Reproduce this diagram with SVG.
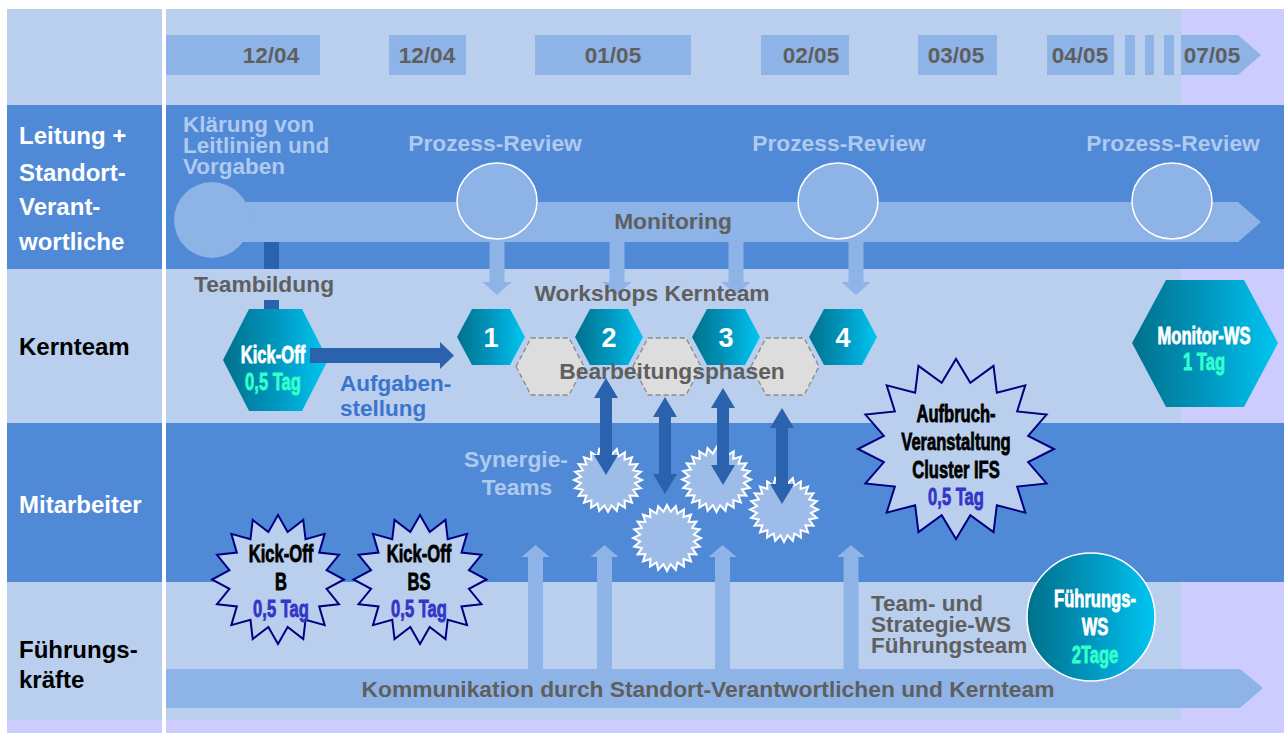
<svg xmlns="http://www.w3.org/2000/svg" xmlns:xlink="http://www.w3.org/1999/xlink" width="1284" height="733" viewBox="0 0 1284 733">
<style>
text{font-family:"Liberation Sans",Arial,sans-serif;font-weight:bold}
.g{fill:#5F5F5F;font-size:22.5px}
.gm{fill:#5F5F5F;font-size:22.8px;text-anchor:middle}
.lt{fill:#AFC9EF;font-size:22.5px}
.ltm{fill:#AFC9EF;font-size:22.8px;text-anchor:middle}
.wh{fill:#FFFFFF;font-size:24px}
.bk{fill:#000000;font-size:24px}
.dt{fill:#5F5F5F;font-size:22.5px;text-anchor:middle}
.num{fill:#FFFFFF;font-size:27px;text-anchor:middle}
.imp{font-size:23px;text-anchor:middle;stroke-width:0.8}
.iw{fill:#FFFFFF;stroke:#FFFFFF}
.ia{fill:#33FFCC;stroke:#33FFCC}
.ik{fill:#000000;stroke:#000000}
.ib{fill:#3535C8;stroke:#3535C8}
.light{fill:#B9CFED}
.mid{fill:#5089D6}
.lav{fill:#CCCCFF}
.bar{fill:#8EB3E6}
.dark{fill:#2A62AE}
.teal{fill:url(#tg)}
.gh{fill:#DDDDDD;stroke:#8A8A8A;stroke-width:1.3;stroke-dasharray:5 3}
.navy{fill:#B9CFED;stroke:#000080;stroke-width:2}
.syn{fill:#9DBDE8;stroke:#FFFFFF;stroke-width:2}
</style>
<defs>
<linearGradient id="tg" x1="0" y1="0" x2="1" y2="0">
<stop offset="0" stop-color="#00718C"/>
<stop offset="0.5" stop-color="#0096BE"/>
<stop offset="1" stop-color="#00C6F2"/>
</linearGradient>
<polygon id="s16" vector-effect="non-scaling-stroke" points="100,0 73.6,14.6 92.4,38.3 62.4,41.7 70.7,70.7 41.7,62.4 38.3,92.4 14.6,73.6 0,100 -14.6,73.6 -38.3,92.4 -41.7,62.4 -70.7,70.7 -62.4,41.7 -92.4,38.3 -73.6,14.6 -100,0 -73.6,-14.6 -92.4,-38.3 -62.4,-41.7 -70.7,-70.7 -41.7,-62.4 -38.3,-92.4 -14.6,-73.6 0,-100 14.6,-73.6 38.3,-92.4 41.7,-62.4 70.7,-70.7 62.4,-41.7 92.4,-38.3 73.6,-14.6"/>
<polygon id="s24" vector-effect="non-scaling-stroke" points="100,0 79.3,10.4 96.6,25.9 73.9,30.6 86.6,50 63.5,48.7 70.7,70.7 48.7,63.5 50,86.6 30.6,73.9 25.9,96.6 10.4,79.3 0,100 -10.4,79.3 -25.9,96.6 -30.6,73.9 -50,86.6 -48.7,63.5 -70.7,70.7 -63.5,48.7 -86.6,50 -73.9,30.6 -96.6,25.9 -79.3,10.4 -100,0 -79.3,-10.4 -96.6,-25.9 -73.9,-30.6 -86.6,-50 -63.5,-48.7 -70.7,-70.7 -48.7,-63.5 -50,-86.6 -30.6,-73.9 -25.9,-96.6 -10.4,-79.3 0,-100 10.4,-79.3 25.9,-96.6 30.6,-73.9 50,-86.6 48.7,-63.5 70.7,-70.7 63.5,-48.7 86.6,-50 73.9,-30.6 96.6,-25.9 79.3,-10.4"/>
</defs>

<g id="background">
<rect x="0" y="0" width="1284" height="733" fill="#FFFFFF"/>
<rect x="7" y="9" width="155" height="96" class="light"/>
<rect x="7" y="105" width="155" height="164" class="mid"/>
<rect x="7" y="269" width="155" height="154" class="light"/>
<rect x="7" y="423" width="155" height="159" class="mid"/>
<rect x="7" y="582" width="155" height="138" class="light"/>
<rect x="7" y="720" width="155" height="13" class="lav"/>
<rect x="166" y="9" width="1118" height="724" class="lav"/>
<rect x="166" y="9" width="1015" height="96" class="light"/>
<rect x="166" y="105" width="1118" height="164" class="mid"/>
<rect x="166" y="269" width="1015" height="154" class="light"/>
<rect x="166" y="423" width="1118" height="159" class="mid"/>
<rect x="166" y="582" width="1015" height="138" class="light"/>
</g>

<g id="row-labels">
<text class="wh" x="19" y="144">Leitung +</text>
<text class="wh" x="19" y="181">Standort-</text>
<text class="wh" x="19" y="215">Verant-</text>
<text class="wh" x="19" y="250">wortliche</text>
<text class="bk" x="19" y="355">Kernteam</text>
<text class="wh" x="19" y="513">Mitarbeiter</text>
<text class="bk" x="19" y="658">Führungs-</text>
<text class="bk" x="19" y="688">kräfte</text>
</g>

<g id="timeline">
<rect x="166" y="35" width="154" height="40" class="bar"/>
<rect x="389" y="35" width="77" height="40" class="bar"/>
<rect x="535" y="35" width="156" height="40" class="bar"/>
<rect x="761" y="35" width="88" height="40" class="bar"/>
<rect x="918" y="35" width="79" height="40" class="bar"/>
<rect x="1047" y="35" width="67" height="40" class="bar"/>
<rect x="1125" y="35" width="10" height="40" class="bar"/>
<rect x="1145" y="35" width="9" height="40" class="bar"/>
<rect x="1164" y="35" width="10" height="40" class="bar"/>
<polygon points="1181,35 1238,35 1261,55 1238,75 1181,75" class="bar"/>
<text class="dt" x="271" y="63">12/04</text>
<text class="dt" x="427" y="63">12/04</text>
<text class="dt" x="613" y="63">01/05</text>
<text class="dt" x="811" y="63">02/05</text>
<text class="dt" x="956" y="63">03/05</text>
<text class="dt" x="1080" y="63">04/05</text>
<text class="dt" x="1212" y="63">07/05</text>
</g>

<g id="monitoring">
<polygon points="212,202 1238,202 1261,222 1238,242 212,242" class="bar"/>
<circle cx="212" cy="220" r="38" class="bar"/>
<text class="gm" x="673" y="229">Monitoring</text>
</g>

<g id="klaerung">
<text class="lt" x="183" y="132">Klärung von</text>
<text class="lt" x="183" y="153">Leitlinien und</text>
<text class="lt" x="183" y="174">Vorgaben</text>
</g>

<g id="review-1">
<ellipse cx="497" cy="201" rx="40" ry="38" class="bar" stroke="#FFFFFF" stroke-width="1.5"/>
<text class="ltm" x="495" y="151">Prozess-Review</text>
</g>
<g id="review-2">
<ellipse cx="838" cy="201" rx="40" ry="38" class="bar" stroke="#FFFFFF" stroke-width="1.5"/>
<text class="ltm" x="839" y="151">Prozess-Review</text>
</g>
<g id="review-3">
<ellipse cx="1172" cy="201" rx="40" ry="38" class="bar" stroke="#FFFFFF" stroke-width="1.5"/>
<text class="ltm" x="1173" y="151">Prozess-Review</text>
</g>

<g id="kommunikation">
<polygon points="166,669 1240,669 1263,688 1240,708 166,708" class="bar"/>
<text class="gm" x="708" y="697">Kommunikation durch Standort-Verantwortlichen und Kernteam</text>
</g>

<g id="connectors">
<rect x="264" y="242" width="15" height="27" class="dark"/>
<polygon points="264,300 279,300 279,318 286,318 271.5,338 257,318 264,318" class="dark"/>
<polygon points="489.5,242 504.5,242 504.5,282 511.5,282 497,295 482.5,282 489.5,282" class="bar"/>
<polygon points="609.5,242 624.5,242 624.5,282 631.5,282 617,295 602.5,282 609.5,282" class="bar"/>
<polygon points="728.5,242 743.5,242 743.5,282 750.5,282 736,295 721.5,282 728.5,282" class="bar"/>
<polygon points="848.5,242 863.5,242 863.5,282 870.5,282 856,295 841.5,282 848.5,282" class="bar"/>
<polygon points="528,669 528,557 521.5,557 535.5,545 549.5,557 543,557 543,669" class="bar"/>
<polygon points="597,669 597,557 590.5,557 604.5,545 618.5,557 612,557 612,669" class="bar"/>
<polygon points="715,669 715,557 708.5,557 722.5,545 736.5,557 730,557 730,669" class="bar"/>
<polygon points="843.5,669 843.5,557 837,557 851,545 865,557 858.5,557 858.5,669" class="bar"/>
</g>

<g id="workshops-label"><text class="gm" x="652" y="301">Workshops Kernteam</text></g>

<g id="phase-a"><polygon points="516,366.5 531,338 569,338 584,366.5 569,395 531,395" class="gh"/></g>
<g id="phase-b"><polygon points="633,366.5 648,338 686,338 701,366.5 686,395 648,395" class="gh"/></g>
<g id="phase-c"><polygon points="751,366.5 766,338 804,338 819,366.5 804,395 766,395" class="gh"/></g>

<g id="ws-1"><polygon points="457,337 472,309 510,309 525,337 510,365 472,365" class="teal"/><text class="num" x="491" y="347">1</text></g>
<g id="ws-2"><polygon points="575,337 590,309 628,309 643,337 628,365 590,365" class="teal"/><text class="num" x="609" y="347">2</text></g>
<g id="ws-3"><polygon points="692,337 707,309 745,309 760,337 745,365 707,365" class="teal"/><text class="num" x="726" y="347">3</text></g>
<g id="ws-4"><polygon points="809,337 824,309 862,309 877,337 862,365 824,365" class="teal"/><text class="num" x="843" y="347">4</text></g>

<g id="bearbeitung-label"><text class="gm" x="672" y="379">Bearbeitungsphasen</text></g>

<g id="synergie">
<use xlink:href="#s24" class="syn" transform="translate(608 480) scale(0.34 0.32)"/>
<use xlink:href="#s24" class="syn" transform="translate(667 538) scale(0.34 0.33)"/>
<use xlink:href="#s24" class="syn" transform="translate(716.5 479.5) scale(0.345 0.325)"/>
<use xlink:href="#s24" class="syn" transform="translate(784 509.5) scale(0.34 0.325)"/>
<text class="ltm" x="516" y="467">Synergie-</text>
<text class="ltm" x="517" y="495">Teams</text>
</g>

<g id="sync-arrows">
<polygon points="606,378 618,398 612,398 612,455 618,455 606,475 594,455 600,455 600,398 594,398" class="dark"/>
<polygon points="665,397 677,417 671,417 671,474 677,474 665,494 653,474 659,474 659,417 653,417" class="dark"/>
<polygon points="723,388 735,408 729,408 729,465 735,465 723,485 711,465 717,465 717,408 711,408" class="dark"/>
<polygon points="782,408 794,428 788,428 788,484 794,484 782,504 770,484 776,484 776,428 770,428" class="dark"/>
</g>

<g id="kickoff">
<polygon points="223,360 249,309 302,309 328,360 302,411 249,411" class="teal"/>
<text class="imp iw" transform="translate(273 363) scale(0.72 1)">Kick-Off</text>
<text class="imp ia" transform="translate(273 390) scale(0.72 1)">0,5 Tag</text>
</g>
<g id="teambildung-label"><text class="gm" x="264" y="292">Teambildung</text></g>
<g id="aufgaben-arrow">
<polygon points="310,348 440,348 440,342 454,355.5 440,369 440,363 310,363" class="dark"/>
<text x="340" y="391" fill="#3A74CC" font-size="22.5">Aufgaben-</text>
<text x="340" y="416" fill="#3A74CC" font-size="22.5">stellung</text>
</g>

<g id="monitor-ws">
<polygon points="1132,343 1166,280 1244,280 1278,343 1244,407 1166,407" class="teal"/>
<text class="imp iw" transform="translate(1204 344) scale(0.72 1)">Monitor-WS</text>
<text class="imp ia" transform="translate(1204 370) scale(0.72 1)">1 Tag</text>
</g>

<g id="aufbruch">
<use xlink:href="#s16" class="navy" transform="translate(956 449) scale(0.98 0.9)"/>
<text class="imp ik" transform="translate(956 422) scale(0.72 1)">Aufbruch-</text>
<text class="imp ik" transform="translate(956 450) scale(0.72 1)">Veranstaltung</text>
<text class="imp ik" transform="translate(956 478) scale(0.72 1)">Cluster IFS</text>
<text class="imp ib" transform="translate(956 505) scale(0.72 1)">0,5 Tag</text>
</g>

<g id="kickoff-b">
<use xlink:href="#s16" class="navy" transform="translate(278 579.5) scale(0.66 0.645)"/>
<text class="imp ik" transform="translate(281 562) scale(0.72 1)">Kick-Off</text>
<text class="imp ik" transform="translate(281 590) scale(0.72 1)">B</text>
<text class="imp ib" transform="translate(281 617) scale(0.72 1)">0,5 Tag</text>
</g>
<g id="kickoff-bs">
<use xlink:href="#s16" class="navy" transform="translate(420 579.5) scale(0.665 0.645)"/>
<text class="imp ik" transform="translate(419 562) scale(0.72 1)">Kick-Off</text>
<text class="imp ik" transform="translate(419 590) scale(0.72 1)">BS</text>
<text class="imp ib" transform="translate(419 617) scale(0.72 1)">0,5 Tag</text>
</g>

<g id="team-strategie">
<text class="g" x="871" y="611">Team- und</text>
<text class="g" x="871" y="632">Strategie-WS</text>
<text class="g" x="871" y="653">Führungsteam</text>
</g>

<g id="fuehrungs-ws">
<circle cx="1091" cy="617" r="64" class="teal" stroke="#FFFFFF" stroke-width="1.5"/>
<text class="imp iw" transform="translate(1095 607) scale(0.72 1)">Führungs-</text>
<text class="imp iw" transform="translate(1095 635) scale(0.72 1)">WS</text>
<text class="imp ia" transform="translate(1095 663) scale(0.72 1)">2Tage</text>
</g>
</svg>
